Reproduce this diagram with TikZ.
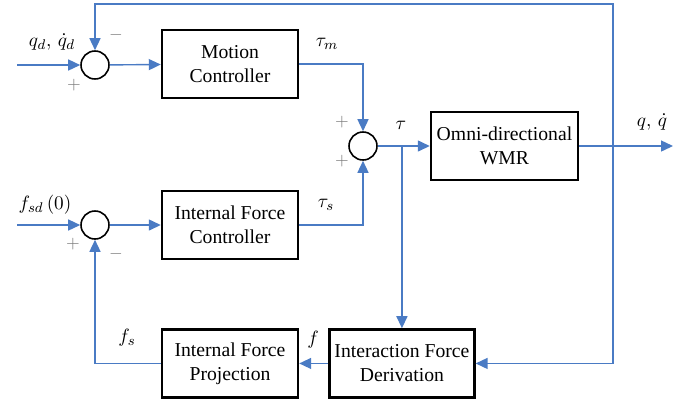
\documentclass[tikz,border=0pt]{standalone}
\usepackage{fontspec}
\setmainfont{Liberation Serif}
\usepackage{tikz}
\usetikzlibrary{arrows.meta,positioning}
\definecolor{Wire}{HTML}{4A7BC4}
\definecolor{Sign}{HTML}{7A7A7A}

\tikzset{
  >={Triangle[length=2.4mm,width=2.2mm]},
  blk/.style={draw,line width=1.4pt,minimum width=2.72cm,minimum height=1.36cm,align=center,inner sep=1pt},
  sumj/.style={draw,circle,line width=0.9pt,minimum size=0.56cm,inner sep=0pt},
  wire/.style={Wire,line width=0.8pt},
  sig/.style={wire,->},
  sgn/.style={text=Sign,font=\fontsize{10}{12}\selectfont}
}

\begin{document}
\begin{tikzpicture}[x=0.02cm,y=-0.02cm,font=\fontsize{11.2}{13.6}\selectfont]
  \useasboundingbox (0,0) rectangle (689,400);
  \node[sumj] (s1) at (95,65) {};
  \node[blk] (mc) at (230,64) {Motion\\Controller};
  \node[sumj] (s2) at (363,146) {};
  \node[blk,minimum width=2.94cm] (wmr) at (504.5,146) {Omni-directional\\WMR};
  \node[sumj] (s3) at (95,225) {};
  \node[blk] (ifc) at (230,225) {Internal Force\\Controller};
  \node[blk,below=1.36cm of ifc] (ifp) {Internal Force\\Projection};
  \node[blk,minimum width=2.9cm,right=0.58cm of ifp] (ifd) {Interaction Force\\Derivation};

  \node (lqd) at (52,42) {$q_d,\,\dot{q}_d$};
  \node (lfsd) at (45,205) {$f_{sd}\,(0)$};
  \node (ltm) at (327,44) {$\tau_m$};
  \node (lts) at (326,205) {$\tau_s$};
  \node (ltau) at (401,125) {$\tau$};
  \node (lq) at (652,122) {$q,\,\dot{q}$};
  \node (lfs) at (127,338) {$f_s$};
  \node (lf) at (313,340) {$f$};
  \node[sgn] (m1) at (116,35) {$-$};
  \node[sgn] (p1) at (74,85) {$+$};
  \node[sgn] (p2a) at (342,122) {$+$};
  \node[sgn] (p2b) at (342,161) {$+$};
  \node[sgn] (p3) at (73,244) {$+$};
  \node[sgn] (m3) at (116,254) {$-$};

  \coordinate (qin) at (17,65);
  \coordinate (fin) at (17,225);
  \coordinate (out) at (673,146);
  \coordinate (fb) at (613,4);
  \coordinate (br) at (s2.east -| ifd.north);

  \draw[sig] (qin) -- (s1);
  \draw[sig] (s1) -- (mc);
  \draw[sig] (mc) -| (s2);
  \draw[sig] (fin) -- (s3);
  \draw[sig] (s3) -- (ifc);
  \draw[sig] (ifc) -| (s2);
  \draw[sig] (s2) -- (wmr);
  \draw[sig] (wmr) -- (out);
  \draw[sig] (br) -- (ifd);
  \draw[wire,<->] (s1) |- (fb) |- (ifd);
  \draw[sig] (ifd) -- (ifp);
  \draw[sig] (ifp) -| (s3);
\end{tikzpicture}
\end{document}
